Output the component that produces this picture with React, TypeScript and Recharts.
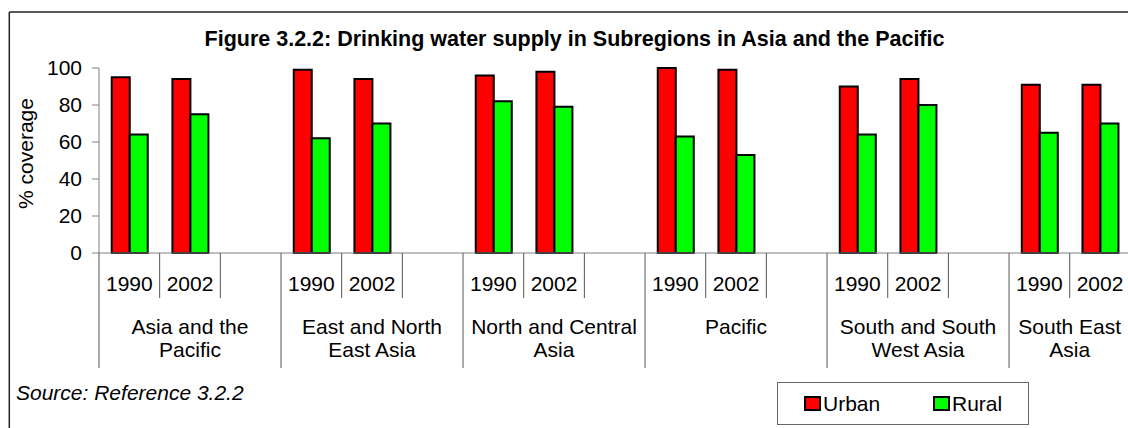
import React from "react";
import { BarChart, Bar, XAxis, YAxis } from "recharts";

const regions = [
  "Asia and the Pacific",
  "East and North East Asia",
  "North and Central Asia",
  "Pacific",
  "South and South West Asia",
  "South East Asia",
];
const regionLines = [
  ["Asia and the", "Pacific"],
  ["East and North", "East Asia"],
  ["North and Central", "Asia"],
  ["Pacific"],
  ["South and South", "West Asia"],
  ["South East", "Asia"],
];
const years = ["1990", "2002"];
// two values per region: 1990, 2002
const urbanValues = [95, 94, 99, 94, 96, 98, 100, 99, 90, 94, 91, 91];
const ruralValues = [64, 75, 62, 70, 82, 79, 63, 53, 64, 80, 65, 70];
const yTicks = [0, 20, 40, 60, 80, 100];

const series = [
  { key: "urban", name: "Urban", color: "#ff0000" },
  { key: "rural", name: "Rural", color: "#00ff00" },
];

interface Row {
  region: string;
  year: string;
  urban: number | null;
  rural: number | null;
  first: boolean;
  size: number;
  lines: string[];
}

// every region gets its two years plus an empty slot, except the last one
const rows: Row[] = [];
regions.forEach((region, r) => {
  const isLast = r === regions.length - 1;
  const size = isLast ? years.length : years.length + 1;
  years.forEach((year, y) => {
    rows.push({
      region,
      year,
      urban: urbanValues[r * years.length + y],
      rural: ruralValues[r * years.length + y],
      first: y === 0,
      size,
      lines: regionLines[r],
    });
  });
  if (!isLast) {
    rows.push({ region, year: "", urban: null, rural: null, first: false, size, lines: regionLines[r] });
  }
});

const FONT = '"Liberation Sans", Arial, sans-serif';
const FS = 21;
const CHART_W = 1160;
const CHART_H = 428;
const Y_AXIS_W = 60;
const PLOT_LEFT = 99;
const PLOT_TOP = 68;
const PLOT_BOTTOM = 253;
const CAT_W = 60.67;
const PLOT_RIGHT = PLOT_LEFT + rows.length * CAT_W;
const AXIS_GRAY = "#808080";
const SEP_COLOR = "#555";

function CategoryTick(props: any) {
  const { x, y, index } = props;
  const row = rows[index];
  if (!row) return null;
  const left = x - CAT_W / 2;
  const groupCenter = left + (row.size * CAT_W) / 2;
  return (
    <g>
      <line x1={left} x2={left} y1={y} y2={y + (row.first ? 115 : 45)} stroke={SEP_COLOR} strokeWidth={1} />
      {row.year && (
        <text x={x} y={y + 38} textAnchor="middle" fontSize={FS} fontFamily={FONT} fill="#000">
          {row.year}
        </text>
      )}
      {row.first &&
        row.lines.map((line, k) => (
          <text
            key={k}
            x={groupCenter}
            y={y + 81 + k * 22.7}
            textAnchor="middle"
            fontSize={FS}
            fontFamily={FONT}
            fill="#000"
          >
            {line}
          </text>
        ))}
    </g>
  );
}

export default function App() {
  return (
    <div
      style={{
        position: "absolute",
        left: 0,
        top: 0,
        width: 1128,
        height: 428,
        overflow: "hidden",
        background: "#fff",
      }}
    >
      <BarChart
        width={CHART_W}
        height={CHART_H}
        data={rows}
        margin={{
          top: PLOT_TOP,
          right: CHART_W - PLOT_RIGHT,
          left: PLOT_LEFT - Y_AXIS_W,
          bottom: 0,
        }}
        barCategoryGap="21%"
        barGap={0}
      >
        <XAxis
          dataKey="year"
          interval={0}
          height={CHART_H - PLOT_BOTTOM}
          tickLine={false}
          tickSize={0}
          tickMargin={0}
          axisLine={{ stroke: AXIS_GRAY }}
          tick={<CategoryTick />}
        />
        <YAxis
          width={Y_AXIS_W}
          domain={[0, 100]}
          ticks={yTicks}
          interval={0}
          tickSize={7}
          tickMargin={10}
          axisLine={{ stroke: AXIS_GRAY }}
          tickLine={{ stroke: AXIS_GRAY }}
          tick={{ fill: "#000", fontSize: FS, fontFamily: FONT }}
        />
        {series.map((s) => (
          <Bar
            key={s.key}
            dataKey={s.key}
            name={s.name}
            fill={s.color}
            stroke="#000"
            strokeWidth={2}
            isAnimationActive={false}
          />
        ))}
      </BarChart>

      <svg
        width={1128}
        height={428}
        style={{ position: "absolute", left: 0, top: 0, pointerEvents: "none" }}
        fontFamily={FONT}
      >
        {/* chart frame, cropped on the right and bottom */}
        <line x1={9.3} x2={9.3} y1={12} y2={428} stroke="#222" strokeWidth={1.5} />
        <line x1={9.3} x2={1128} y1={12} y2={12} stroke="#222" strokeWidth={1.5} />

        <text x={574.5} y={45.5} textAnchor="middle" fontSize={21.5} fontWeight="bold" fill="#000">
          Figure 3.2.2: Drinking water supply in Subregions in Asia and the Pacific
        </text>

        <text
          x={33}
          y={153.5}
          transform="rotate(-90, 33, 153.5)"
          textAnchor="middle"
          fontSize={FS}
          fill="#000"
        >
          % coverage
        </text>

        <text x={16} y={400} fontSize={FS} fontStyle="italic" fill="#000">
          Source: Reference 3.2.2
        </text>

        <rect x={777.5} y={382.5} width={251} height={42} fill="#fff" stroke="#666" strokeWidth={1} />
        {series.map((s, i) => {
          const sx = 805 + i * 129;
          return (
            <g key={s.key}>
              <rect x={sx} y={397} width={15} height={13} fill={s.color} stroke="#000" strokeWidth={2} />
              <text x={sx + 18} y={411} fontSize={FS} fill="#000">
                {s.name}
              </text>
            </g>
          );
        })}
      </svg>
    </div>
  );
}
